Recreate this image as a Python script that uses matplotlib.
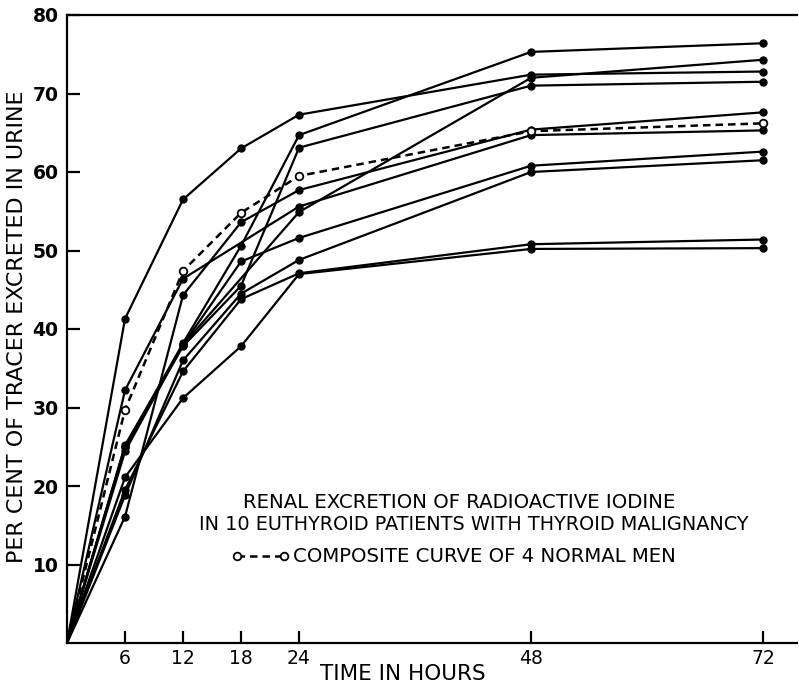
import numpy as np
import matplotlib
matplotlib.use('Agg')
import matplotlib.pyplot as plt
from matplotlib.lines import Line2D

# sampling times (hours); NaN = no reading plotted for that patient
hours = [6, 12, 18, 24, 48, 72]

patients = [
    [41.3, 56.5, 63.0, 67.3, 72.4, 72.8],
    [25.0, 38.2, 50.6, 64.7, 75.3, 76.4],
    [25.0, 37.8, 45.5, 63.1, 71.0, 71.5],
    [16.1, 44.3, 53.6, 57.7, 65.4, 67.6],
    [32.2, 46.4, np.nan, 55.6, 64.7, 65.3],
    [25.2, 38.0, np.nan, 54.9, 72.0, 74.3],
    [24.4, 38.0, 48.6, 51.6, 60.8, 62.6],
    [18.8, 36.0, 44.5, 48.8, 60.0, 61.5],
    [19.5, 34.6, 43.8, 47.1, 50.8, 51.4],
    [21.1, 31.2, 37.8, 47.0, 50.2, 50.3],
]

composite = [29.7, 47.4, 54.8, 59.5, 65.2, 66.2]

title_lines = ['RENAL EXCRETION OF RADIOACTIVE IODINE',
               'IN 10 EUTHYROID PATIENTS WITH THYROID MALIGNANCY']
legend_label = 'COMPOSITE CURVE OF 4 NORMAL MEN'

plt.rcParams['font.family'] = ['DejaVu Sans']

fig = plt.figure(figsize=(7.99, 6.85), dpi=100)
ax = fig.add_axes([67 / 799, 1 - 643 / 685, 730 / 799, 628 / 685])

def series(vals):
    x = [0] + [h for h, v in zip(hours, vals) if not np.isnan(v)]
    y = [0] + [v for v in vals if not np.isnan(v)]
    return x, y

for vals in patients:
    x, y = series(vals)
    ax.plot(x, y, color='black', lw=1.6, solid_joinstyle='miter')
    ax.plot(x[1:], y[1:], 'o', color='black', ms=5)

x, y = series(composite)
ax.plot(x, y, color='black', lw=1.8, ls=(0, (3, 2)))
ax.plot(x[1:], y[1:], 'o', mfc='white', mec='black', mew=1.3, ms=5.5)

ax.set_xlim(0, 75.5)
ax.set_ylim(0, 80)
ax.set_xticks(hours)
ax.set_yticks(range(10, 90, 10))
ax.tick_params(direction='in', length=9, width=1.6, labelsize=13.5, pad=4)
ax.tick_params(axis='y', pad=6)
for lab in ax.get_yticklabels():
    lab.set_fontweight('bold')
for side in ['left', 'bottom', 'top']:
    ax.spines[side].set_linewidth(1.6)
ax.spines['right'].set_visible(False)

fig.text(403 / 799, 1 - 674 / 685, 'TIME IN HOURS', ha='center', va='center', fontsize=15.5)
fig.text(17 / 799, 1 - 327 / 685, 'PER CENT OF TRACER EXCRETED IN URINE',
         rotation=90, ha='center', va='center', fontsize=16)

fig.text(243 / 799, 1 - 503 / 685, title_lines[0], ha='left', va='center', fontsize=14.2)
fig.text(199 / 799, 1 - 525 / 685, title_lines[1], ha='left', va='center', fontsize=13.85)

handle = Line2D([], [], color='black', lw=1.8, ls=(0, (3, 2)),
                marker='o', mfc='white', mec='black', mew=1.3, ms=5.5)
ax.legend([handle], [legend_label], numpoints=2, frameon=False, fontsize=14.2,
          handlelength=3.0, handletextpad=0.15, loc='center left',
          bbox_to_anchor=((223 - 67) / 730, (643 - 557) / 628), borderaxespad=0)

fig.savefig('out.png', dpi=100)
